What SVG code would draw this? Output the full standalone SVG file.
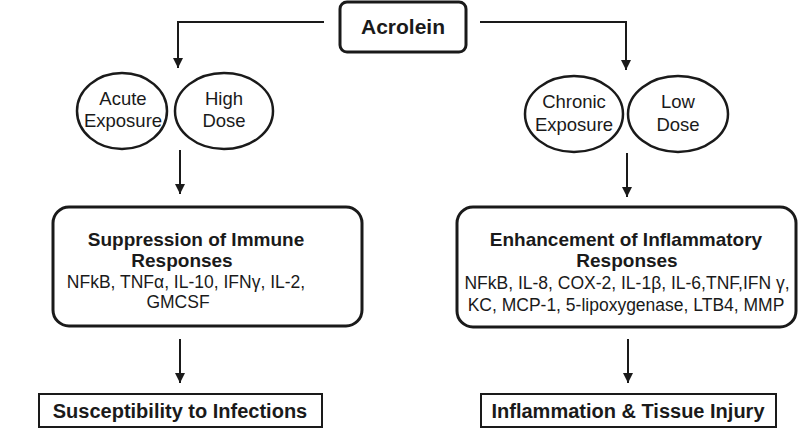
<svg xmlns="http://www.w3.org/2000/svg" width="800" height="428" viewBox="0 0 800 428">
<style>
text{font-family:"Liberation Sans",Arial,sans-serif;fill:#1a1a1a;text-anchor:middle}
.b{font-weight:bold}
.rb{fill:#fff;stroke:#1a1a1a;stroke-width:3}
.el{fill:#fff;stroke:#1a1a1a;stroke-width:2.5}
.sq{fill:#fff;stroke:#1a1a1a;stroke-width:2}
.ln{fill:none;stroke:#1a1a1a;stroke-width:2}
.e{font-size:18.5px}
.t{font-size:19px;font-weight:bold}
.l{font-size:17.5px}
</style>
<defs>
<marker id="ah" viewBox="0 0 10 10" refX="10" refY="5" markerWidth="5" markerHeight="5" orient="auto" markerUnits="strokeWidth">
<path d="M0,0 L10,5 L0,10 z" fill="#1a1a1a"/>
</marker>
</defs>
<g id="connectors">
<path class="ln" d="M324,22 H178 V68" marker-end="url(#ah)"/>
<path class="ln" d="M480,22 H626 V70" marker-end="url(#ah)"/>
<path class="ln" d="M180,150 V194" marker-end="url(#ah)"/>
<path class="ln" d="M627,153 V197" marker-end="url(#ah)"/>
<path class="ln" d="M180,339 V383" marker-end="url(#ah)"/>
<path class="ln" d="M628,339 V383" marker-end="url(#ah)"/>
</g>
<g id="acrolein">
<rect class="rb" x="340" y="2" width="126" height="50" rx="7"/>
<text class="b" x="403" y="34" font-size="21">Acrolein</text>
</g>
<g id="acute-exposure">
<ellipse class="el" cx="122" cy="111" rx="45" ry="38"/>
<text class="e" x="123" y="105">Acute</text>
<text class="e" x="123" y="127">Exposure</text>
</g>
<g id="high-dose">
<ellipse class="el" cx="224" cy="111" rx="49" ry="38"/>
<text class="e" x="224" y="105">High</text>
<text class="e" x="224" y="127">Dose</text>
</g>
<g id="chronic-exposure">
<ellipse class="el" cx="574" cy="114" rx="49" ry="38"/>
<text class="e" x="574" y="108">Chronic</text>
<text class="e" x="574" y="131">Exposure</text>
</g>
<g id="low-dose">
<ellipse class="el" cx="678" cy="114" rx="50" ry="38"/>
<text class="e" x="678" y="108">Low</text>
<text class="e" x="678" y="131">Dose</text>
</g>
<g id="suppression">
<rect class="rb" x="53" y="207" width="309" height="119" rx="16"/>
<text class="t" x="196" y="246">Suppression of Immune</text>
<text class="t" x="182" y="267">Responses</text>
<text class="l" x="186" y="288">NFkB, TNFα, IL-10, IFNγ, IL-2,</text>
<text class="l" x="178" y="308">GMCSF</text>
</g>
<g id="enhancement">
<rect class="rb" x="457" y="207" width="339" height="120" rx="16"/>
<text class="t" x="626" y="246">Enhancement of Inflammatory</text>
<text class="t" x="627" y="267">Responses</text>
<text class="l" x="627" y="289">NFkB, IL-8, COX-2, IL-1β, IL-6,TNF,IFN γ,</text>
<text class="l" x="626" y="311">KC, MCP-1, 5-lipoxygenase, LTB4, MMP</text>
</g>
<g id="susceptibility">
<rect class="sq" x="39" y="394" width="283" height="33"/>
<text class="b" x="180" y="418" font-size="20">Susceptibility to Infections</text>
</g>
<g id="inflammation">
<rect class="sq" x="481" y="394" width="295" height="33"/>
<text class="b" x="628" y="418" font-size="20">Inflammation &amp; Tissue Injury</text>
</g>
</svg>
